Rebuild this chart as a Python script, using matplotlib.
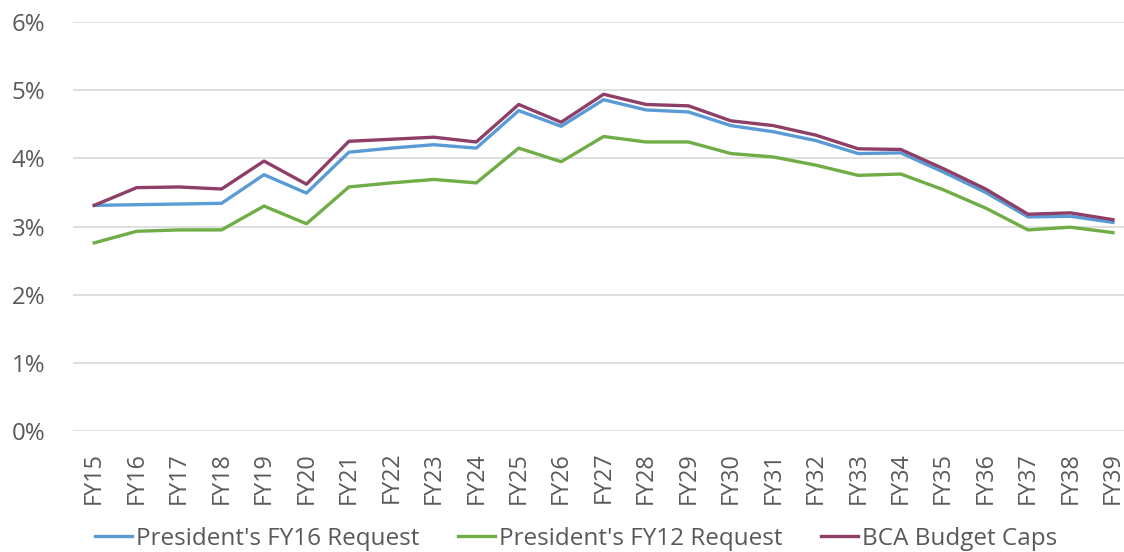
import matplotlib.pyplot as plt
from matplotlib.ticker import PercentFormatter

plt.rcParams['font.family'] = ['Open Sans', 'DejaVu Sans']

years = ['FY%d' % y for y in range(15, 40)]

fy16_request = [3.31, 3.32, 3.33, 3.34, 3.76, 3.49, 4.09, 4.15, 4.20, 4.15,
                4.70, 4.47, 4.86, 4.71, 4.68, 4.48, 4.39, 4.26, 4.07, 4.08,
                3.80, 3.50, 3.14, 3.15, 3.06]
fy12_request = [2.76, 2.93, 2.95, 2.95, 3.30, 3.04, 3.58, 3.64, 3.69, 3.64,
                4.15, 3.95, 4.32, 4.24, 4.24, 4.07, 4.02, 3.90, 3.75, 3.77,
                3.54, 3.27, 2.95, 2.99, 2.91]
bca_caps = [3.31, 3.57, 3.58, 3.55, 3.96, 3.62, 4.25, 4.28, 4.31, 4.24,
            4.79, 4.53, 4.94, 4.79, 4.77, 4.55, 4.48, 4.34, 4.14, 4.13,
            3.85, 3.55, 3.18, 3.20, 3.10]

fig = plt.figure(figsize=(11.24, 5.52), dpi=100)
ax = fig.add_axes([73 / 1124, 121 / 552, 1 - 73 / 1124, 409 / 552])

x = range(len(years))
l1, = ax.plot(x, fy16_request, color='#5B9BD5', linewidth=2.4, label="President's FY16 Request")
l2, = ax.plot(x, fy12_request, color='#70AD47', linewidth=2.4, label="President's FY12 Request")
l3, = ax.plot(x, bca_caps, color='#8E3F68', linewidth=2.4, label='BCA Budget Caps')

ax.set_xlim(-0.5, 24.26)
ax.set_ylim(0, 6)
ax.set_yticks(range(0, 7))
ax.yaxis.set_major_formatter(PercentFormatter(decimals=0))
ax.set_xticks(list(x))
ax.set_xticklabels(years, rotation=90)
ax.grid(axis='y', color='#D9D9D9', linewidth=1.2)
ax.set_axisbelow(True)
for s in ax.spines.values():
    s.set_visible(False)
ax.tick_params(length=0, colors='#595959')
ax.tick_params(axis='x', pad=15, labelsize=16.8)
ax.tick_params(axis='y', pad=44, labelsize=17.3)
for lbl in ax.get_yticklabels():
    lbl.set_horizontalalignment('left')

fig.legend(handles=[l1, l2, l3], loc='center left', bbox_to_anchor=(95 / 1124, 1 - 539 / 552),
           ncol=3, frameon=False, fontsize=17.5, handlelength=1.52, handletextpad=0.16,
           columnspacing=1.6, labelcolor='#595959', borderpad=0, borderaxespad=0)

fig.savefig('out.png', dpi=100)
